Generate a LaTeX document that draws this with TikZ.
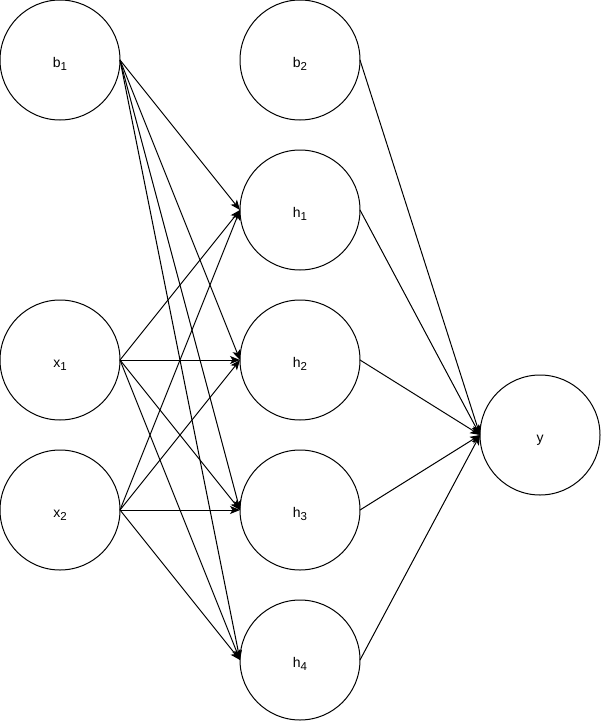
\documentclass[tikz,border=0pt]{standalone}
\usepackage{fontspec}
\setmainfont{Liberation Sans}
\usetikzlibrary{arrows.meta}
\newcommand\subidx[1]{\raisebox{-3.8pt}{\fontsize{11.5}{12}\selectfont #1}}
\begin{document}
\begin{tikzpicture}[x=1pt,y=-1pt,
  neuron/.style={draw, circle, line width=1pt, minimum size=120pt, inner sep=0pt, outer sep=0pt, text height=18pt, text depth=4pt, font=\fontsize{14}{16}\selectfont},
  conn/.style={line width=1pt, -{Stealth[length=10pt,width=8pt,inset=2.5pt]}}]
\useasboundingbox (0,0) rectangle (602,723);
\node[neuron] (b1) at (60,60) {b\subidx{1}};
\node[neuron] (b2) at (300,60) {b\subidx{2}};
\node[neuron] (x1) at (60,360) {x\subidx{1}};
\node[neuron] (x2) at (60,510) {x\subidx{2}};
\node[neuron] (h1) at (300,210) {h\subidx{1}};
\node[neuron] (h2) at (300,360) {h\subidx{2}};
\node[neuron] (h3) at (300,510) {h\subidx{3}};
\node[neuron] (h4) at (300,660) {h\subidx{4}};
\node[neuron] (y) at (540,435) {y};
\foreach \s in {b1,x1,x2}{
  \foreach \t in {h1,h2,h3,h4}{
    \draw[conn] (\s.east) -- (\t.west);
  }
}
\foreach \s in {b2,h1,h2,h3,h4}{
  \draw[conn] (\s.east) -- (y.west);
}
\end{tikzpicture}
\end{document}
